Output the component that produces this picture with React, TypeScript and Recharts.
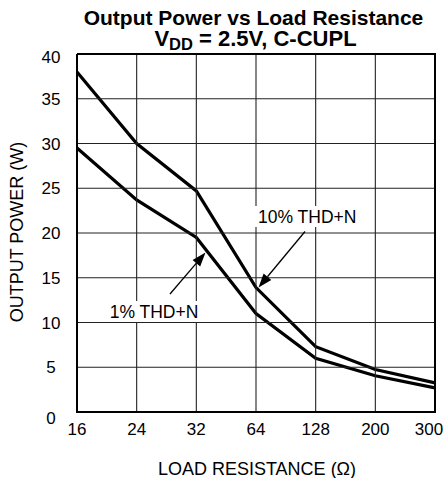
import React from 'react';
import { LineChart, Line, XAxis, YAxis } from 'recharts';

const resistance = ['16', '24', '32', '64', '128', '200', '300'];
const thd10 = [38, 30, 24.7, 13.9, 7.3, 4.75, 3.25];
const thd1 = [29.5, 23.7, 19.5, 11.0, 6.0, 4.05, 2.7];
const yTicks = [0, 5, 10, 15, 20, 25, 30, 35, 40];

const data = resistance.map((r, i) => ({ r, thd10: thd10[i], thd1: thd1[i] }));

const FONT = '"Liberation Sans", Arial, Helvetica, sans-serif';
const W = 446;
const H = 478;
const M = { top: 54, right: 11, left: 0, bottom: 0 };
const Y_W = 77;
const X_H = 66;
const PL = M.left + Y_W;
const PR = W - M.right;
const PT = M.top;
const PB = H - M.bottom - X_H;
const Y_MAX = yTicks[yTicks.length - 1];

const XTick = (props: any) => {
  const { x, y, payload, index } = props;
  const last = index === resistance.length - 1;
  return (
    <text x={last ? x - 6 : x} y={y + 9} dy="0.36em" textAnchor="middle" fontSize={17} fontFamily={FONT} fill="#000">
      {payload.value}
    </text>
  );
};

const YTick = (props: any) => {
  const { x, y, payload } = props;
  let off = 0;
  if (payload.value === 0) off = 6;
  if (payload.value === 40) off = 3;
  return (
    <text x={x - 18} y={y + off} dy="0.36em" textAnchor="middle" fontSize={17} fontFamily={FONT} fill="#000">
      {payload.value}
    </text>
  );
};

const Arrow = ({ x1, y1, x2, y2 }: { x1: number; y1: number; x2: number; y2: number }) => {
  const dx = x2 - x1;
  const dy = y2 - y1;
  const len = Math.sqrt(dx * dx + dy * dy);
  const ux = dx / len;
  const uy = dy / len;
  const hl = 14;
  const hw = 5;
  const bx = x2 - ux * hl;
  const by = y2 - uy * hl;
  const pts = `${x2},${y2} ${bx - uy * hw},${by + ux * hw} ${bx + uy * hw},${by - ux * hw}`;
  return (
    <g>
      <line x1={x1} y1={y1} x2={bx} y2={by} stroke="#000" strokeWidth={1.3} />
      <polygon points={pts} fill="#000" />
    </g>
  );
};

const Overlay = () => {
  const step = (PR - PL) / (resistance.length - 1);
  return (
    <svg width={W} height={H} style={{ position: 'absolute', left: 0, top: 0, pointerEvents: 'none' }}>
      <g>
        {resistance.map((r, i) => (
          <line key={'v' + r} x1={PL + i * step} x2={PL + i * step} y1={PT} y2={PB} stroke="#222" strokeWidth={1.1} />
        ))}
        {yTicks.map((t) => {
          const y = PB - (t / Y_MAX) * (PB - PT);
          return <line key={'h' + t} x1={PL} x2={PR} y1={y} y2={y} stroke="#222" strokeWidth={1.1} />;
        })}
        <polyline
          points={`${PL},${PT} ${PR},${PT} ${PR},${PB} ${PL},${PB} ${PL},${PT}`}
          fill="none"
          stroke="#000"
          strokeWidth={2}
        />
      </g>
      <g fontFamily={FONT} fill="#000">
        <text x={253.5} y={24.5} textAnchor="middle" fontSize={21} fontWeight="bold">
          Output Power vs Load Resistance
        </text>
        <text x={255.5} y={46} textAnchor="middle" fontSize={22} fontWeight="bold">
          <tspan>V</tspan>
          <tspan dy={4} fontSize={16.5}>DD</tspan>
          <tspan dy={-4}> = 2.5V, C-CUPL</tspan>
        </text>
        <text x={17} y={232} transform="rotate(-90 17 232)" dy="0.36em" textAnchor="middle" fontSize={18}>
          OUTPUT POWER (W)
        </text>
        <text x={257} y={469} dy="0.36em" textAnchor="middle" fontSize={18}>
          LOAD RESISTANCE (Ω)
        </text>
        <rect x={255} y={206} width={96} height={21} fill="#fff" />
        <text x={258} y={216.5} dy="0.36em" fontSize={17.5}>10% THD+N</text>
        <rect x={105} y={301} width={98} height={21} fill="#fff" />
        <text x={154} y={311.5} dy="0.36em" textAnchor="middle" fontSize={17.5}>1% THD+N</text>
        <Arrow x1={305} y1={231.5} x2={258.5} y2={287.5} />
        <Arrow x1={170} y1={294} x2={205.5} y2={252.5} />
      </g>
    </svg>
  );
};

export default function App() {
  return (
    <div style={{ position: 'absolute', left: 0, top: 0, width: W, height: H, background: '#fff' }}>
      <LineChart width={W} height={H} data={data} margin={M}>
        <XAxis
          dataKey="r"
          interval={0}
          height={X_H}
          padding={{ left: 0, right: 0 }}
          tickLine={false}
          axisLine={false}
          tick={<XTick />}
        />
        <YAxis
          domain={[0, Y_MAX]}
          ticks={yTicks}
          interval={0}
          width={Y_W}
          tickLine={false}
          axisLine={false}
          tick={<YTick />}
        />
        <Line type="linear" dataKey="thd10" stroke="#000" strokeWidth={3.2} dot={false} isAnimationActive={false} />
        <Line type="linear" dataKey="thd1" stroke="#000" strokeWidth={3.2} dot={false} isAnimationActive={false} />
      </LineChart>
      <Overlay />
    </div>
  );
}
